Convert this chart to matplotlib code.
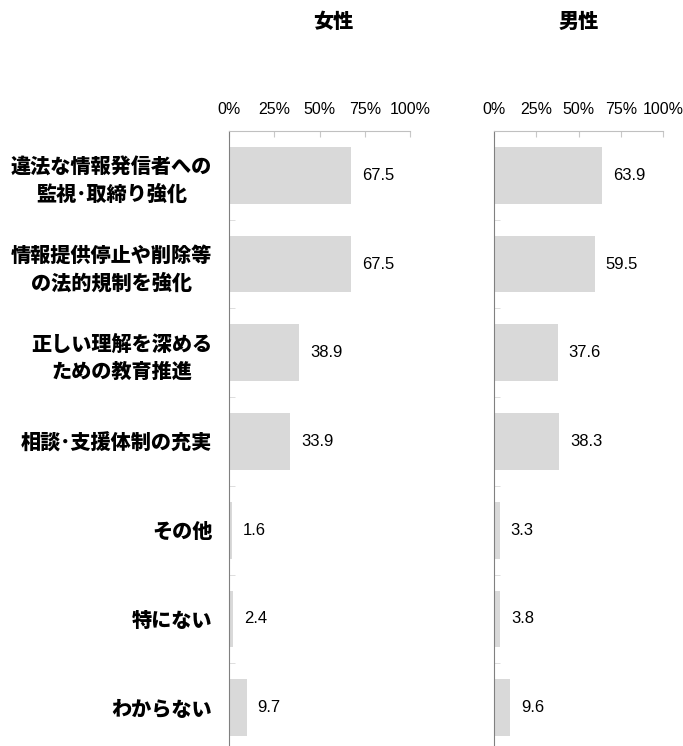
import matplotlib
matplotlib.use("Agg")
import matplotlib.pyplot as plt
from matplotlib.ticker import FixedLocator, PercentFormatter

categories = [
    "違法な情報発信者への\n監視･取締り強化",
    "情報提供停止や削除等\nの法的規制を強化",
    "正しい理解を深める\nための教育推進",
    "相談･支援体制の充実",
    "その他",
    "特にない",
    "わからない",
]
female = [67.5, 67.5, 38.9, 33.9, 1.6, 2.4, 9.7]
male = [63.9, 59.5, 37.6, 38.3, 3.3, 3.8, 9.6]
titles = ["女性", "男性"]
xticks = [0, 25, 50, 75, 100]

jp_font = ["Noto Sans CJK JP", "DejaVu Sans"]
num_font = ["Liberation Sans", "DejaVu Sans"]

fig = plt.figure(figsize=(6.83, 7.46), dpi=100)

W, H = 683, 746
top = 1 - 131 / H
bottom = (746 - 752) / H
ax_l = fig.add_axes([229 / W, bottom, 181 / W, top - bottom])
ax_r = fig.add_axes([494 / W, bottom, 169 / W, top - bottom])

ypos = list(range(len(categories)))

for ax, values in [(ax_l, female), (ax_r, male)]:
    bars = ax.barh(ypos, values, height=0.64, color="#d9d9d9")
    ax.bar_label(bars, fmt="%.1f", padding=8, fontsize=12, family=num_font)
    ax.set_xlim(0, 100)
    ax.set_ylim(len(categories) - 0.5, -0.5)
    ax.xaxis.tick_top()
    ax.set_xticks(xticks)
    ax.xaxis.set_major_formatter(PercentFormatter(decimals=0))
    ax.tick_params(axis="x", direction="in", length=4, color="#c8c8c8",
                   pad=10, labelsize=11.5)
    for lbl in ax.get_xticklabels():
        lbl.set_family(num_font)
    ax.yaxis.set_minor_locator(FixedLocator([i + 0.5 for i in ypos[:-1]]))
    ax.tick_params(axis="y", which="minor", direction="in", length=4,
                   color="#d8d8d8")
    ax.tick_params(axis="y", which="major", length=0)
    ax.spines["right"].set_visible(False)
    ax.spines["bottom"].set_visible(False)
    ax.spines["top"].set_color("#c0c0c0")
    ax.spines["left"].set_color("#808080")

ax_l.set_yticks(ypos)
ax_l.set_yticklabels(categories, fontsize=14.5, fontweight=900,
                     family=jp_font, linespacing=1.45)
ax_l.tick_params(axis="y", which="major", pad=12)
for lbl in ax_l.get_yticklabels():
    lbl.set_multialignment("center")

ax_r.set_yticks(ypos)
ax_r.set_yticklabels([])

fig.text(333 / W, 1 - 22 / H, titles[0], ha="center", va="center",
         fontsize=14.5, fontweight=900, family=jp_font)
fig.text(579 / W, 1 - 22 / H, titles[1], ha="center", va="center",
         fontsize=14.5, fontweight=900, family=jp_font)

fig.savefig("out.png", dpi=100)
